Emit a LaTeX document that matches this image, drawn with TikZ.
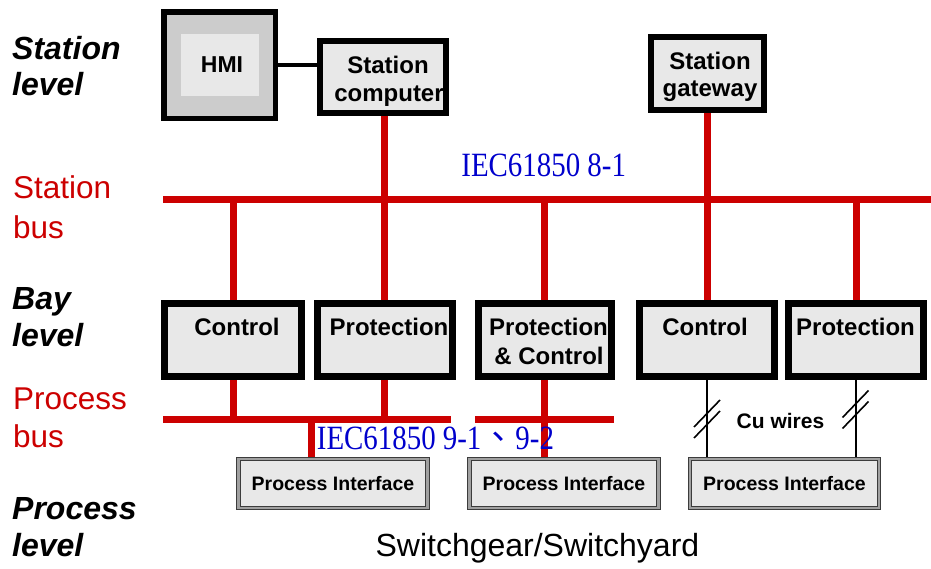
\documentclass[tikz,border=0pt]{standalone}
\usepackage{fontspec}
\setmainfont{Liberation Sans}
\newfontfamily\iecfont[FakeStretch=0.85]{Liberation Serif}
\newfontfamily\cjkfont{Noto Sans CJK TC}
\usetikzlibrary{backgrounds}
\definecolor{busred}{HTML}{CC0000}
\definecolor{boxfill}{HTML}{E8E8E8}
\definecolor{hmifill}{HTML}{CCCCCC}
\definecolor{iecblue}{HTML}{0000CC}
\definecolor{pigray}{HTML}{A0A0A0}
\definecolor{piedge}{HTML}{3C3C3C}
\tikzset{
  thickbox/.style={draw=black, fill=boxfill, rectangle, inner sep=0pt},
  baybox/.style={thickbox, line width=7pt, minimum width=135pt, minimum height=73pt},
  boxlabel/.style={font=\fontsize{24}{28}\selectfont\bfseries, inner sep=0pt, anchor=base},
  levellabel/.style={font=\fontsize{32}{36}\selectfont\bfseries\itshape, anchor=base west, inner sep=0pt},
  buslabel/.style={font=\fontsize{31.5}{36}\selectfont, text=busred, anchor=base west, inner sep=0pt},
  redbus/.style={draw=busred, line width=7pt},
  stbus/.style={draw=busred, line width=6.5pt},
  cuwire/.style={draw=black, line width=2pt},
  pibox/.style={draw=piedge, double=pigray, double distance=2.2pt, line width=1.1pt,
     fill=boxfill, minimum width=189pt, minimum height=48.6pt, inner sep=0pt,
     font=\fontsize{19.5}{22}\selectfont\bfseries},
  iectext/.style={text=iecblue, font=\iecfont\fontsize{34}{38}\selectfont, inner sep=0pt}
}
\begin{document}
\begin{tikzpicture}[x=1pt,y=-1pt]
\useasboundingbox (0,0) rectangle (931,568);

% ---------- boxes ----------
\node[thickbox, fill=hmifill, line width=5.5pt, minimum width=111.5pt, minimum height=106.5pt] (hmi) at (219.5,65) {};
\node[fill=boxfill, minimum width=78pt, minimum height=62pt, inner sep=0pt,
      font=\fontsize{23}{26}\selectfont\bfseries] (hmiin) at (220,65) {\hspace*{4pt}HMI};
\node[thickbox, line width=6pt, minimum width=126pt, minimum height=72pt] (sc) at (383,77) {};
\node[thickbox, line width=6pt, minimum width=113pt, minimum height=73pt] (gw) at (707.5,73.5) {};

\node[baybox, minimum width=137pt] (ctrl1) at (233,340) {};
\node[baybox] (prot1) at (384.5,340) {};
\node[baybox, minimum width=133pt] (pc) at (544.5,340) {};
\node[baybox] (ctrl2) at (707,340) {};
\node[baybox] (prot2) at (856,340) {};

\node[pibox] (pi1) at (333,483.5) {Process Interface};
\node[pibox] (pi2) at (564,483.5) {Process Interface};
\node[pibox] (pi3) at (784.5,483.5) {Process Interface};

% ---------- connectors (behind boxes) ----------
\coordinate (sbL) at (163,199.5);
\coordinate (sbR) at (931,199.5);
\coordinate (pb1L) at (163,419);
\coordinate (pb1R) at (451,419);
\coordinate (pb2L) at (475,419);
\coordinate (pb2R) at (614,419);
\coordinate (pitap) at (311.3,419);
\coordinate (slL) at (707,419);
\coordinate (slR) at (855.5,409.5);
\begin{scope}[on background layer]
  \draw[line width=3.5pt] (hmi.east) -- (hmi.east -| sc.west);
  \draw[stbus] (sbL) -- (sbR);
  \draw[redbus] (sc.south -| prot1.north) -- (prot1.north);
  \draw[redbus] (gw.south -| ctrl2.north) -- (ctrl2.north);
  \draw[redbus] (ctrl1.north) -- (ctrl1.north |- sbL);
  \draw[redbus] (pc.north) -- (pc.north |- sbL);
  \draw[redbus] (prot2.north) -- (prot2.north |- sbL);
  \draw[redbus] (pb1L) -- (pb1R);
  \draw[redbus] (pb2L) -- (pb2R);
  \draw[redbus] (ctrl1.south) -- (ctrl1.south |- pb1L);
  \draw[redbus] (prot1.south) -- (prot1.south |- pb1L);
  \draw[redbus] (pc.south) -- (pc.south |- pi2.north);
  \draw[redbus] (pitap) -- (pitap |- pi1.north);
  \draw[cuwire] (ctrl2.south) -- (ctrl2.south |- pi3.north);
  \draw[cuwire] (prot2.south) -- (prot2.south |- pi3.north);
\end{scope}
% wire slashes
\draw[line width=1.6pt] ([shift={(-13,8)}]slL) -- ([shift={(13,-19)}]slL);
\draw[line width=1.6pt] ([shift={(-13,19)}]slL) -- ([shift={(13,-8)}]slL);
\draw[line width=1.6pt] ([shift={(-13,8)}]slR) -- ([shift={(13,-19)}]slR);
\draw[line width=1.6pt] ([shift={(-13,19)}]slR) -- ([shift={(13,-8)}]slR);

% ---------- box texts ----------
\node[boxlabel] (sct1) at (388,73) {Station};
\node[boxlabel] (sct2) at (389,101.5) {computer};
\node[boxlabel] (gwt1) at (710,69.3) {Station};
\node[boxlabel] (gwt2) at (710,96.7) {gateway};
\node[boxlabel] (c1t) at (237,335.7) {Control};
\node[boxlabel] (p1t) at (389,335.7) {Protection};
\node[boxlabel] (pct1) at (548.5,335.7) {Protection};
\node[boxlabel] (pct2) at (549,364) {\&\ Control};
\node[boxlabel] (c2t) at (705,335.7) {Control};
\node[boxlabel] (p2t) at (855.5,335.7) {Protection};
\node[font=\fontsize{21}{24}\selectfont\bfseries, anchor=base, inner sep=0pt] (cut) at (780.5,428.7) {Cu wires};

% ---------- IEC labels ----------
\node[iectext, anchor=base] (iec8) at (543.7,176.7) {IEC61850 8-1};
\node[iectext, anchor=base west] (iec9) at (316.7,449) {IEC61850 9-1{\cjkfont\fontsize{34}{38}\selectfont 、}9-2};

% ---------- left labels ----------
\node[levellabel] (l1a) at (12,59) {Station};
\node[levellabel] (l1b) at (12,95) {level};
\node[buslabel] (b1a) at (13,198) {Station};
\node[buslabel] (b1b) at (13,238) {bus};
\node[levellabel] (l2a) at (12,309) {Bay};
\node[levellabel] (l2b) at (12,346) {level};
\node[buslabel] (b2a) at (13,409) {Process};
\node[buslabel] (b2b) at (13,447) {bus};
\node[levellabel] (l3a) at (12,519) {Process};
\node[levellabel] (l3b) at (12,556) {level};

% ---------- bottom ----------
\node[font=\fontsize{32}{36}\selectfont, anchor=base, inner sep=0pt] (sw) at (537.4,556.7) {Switchgear/Switchyard};
\end{tikzpicture}
\end{document}
